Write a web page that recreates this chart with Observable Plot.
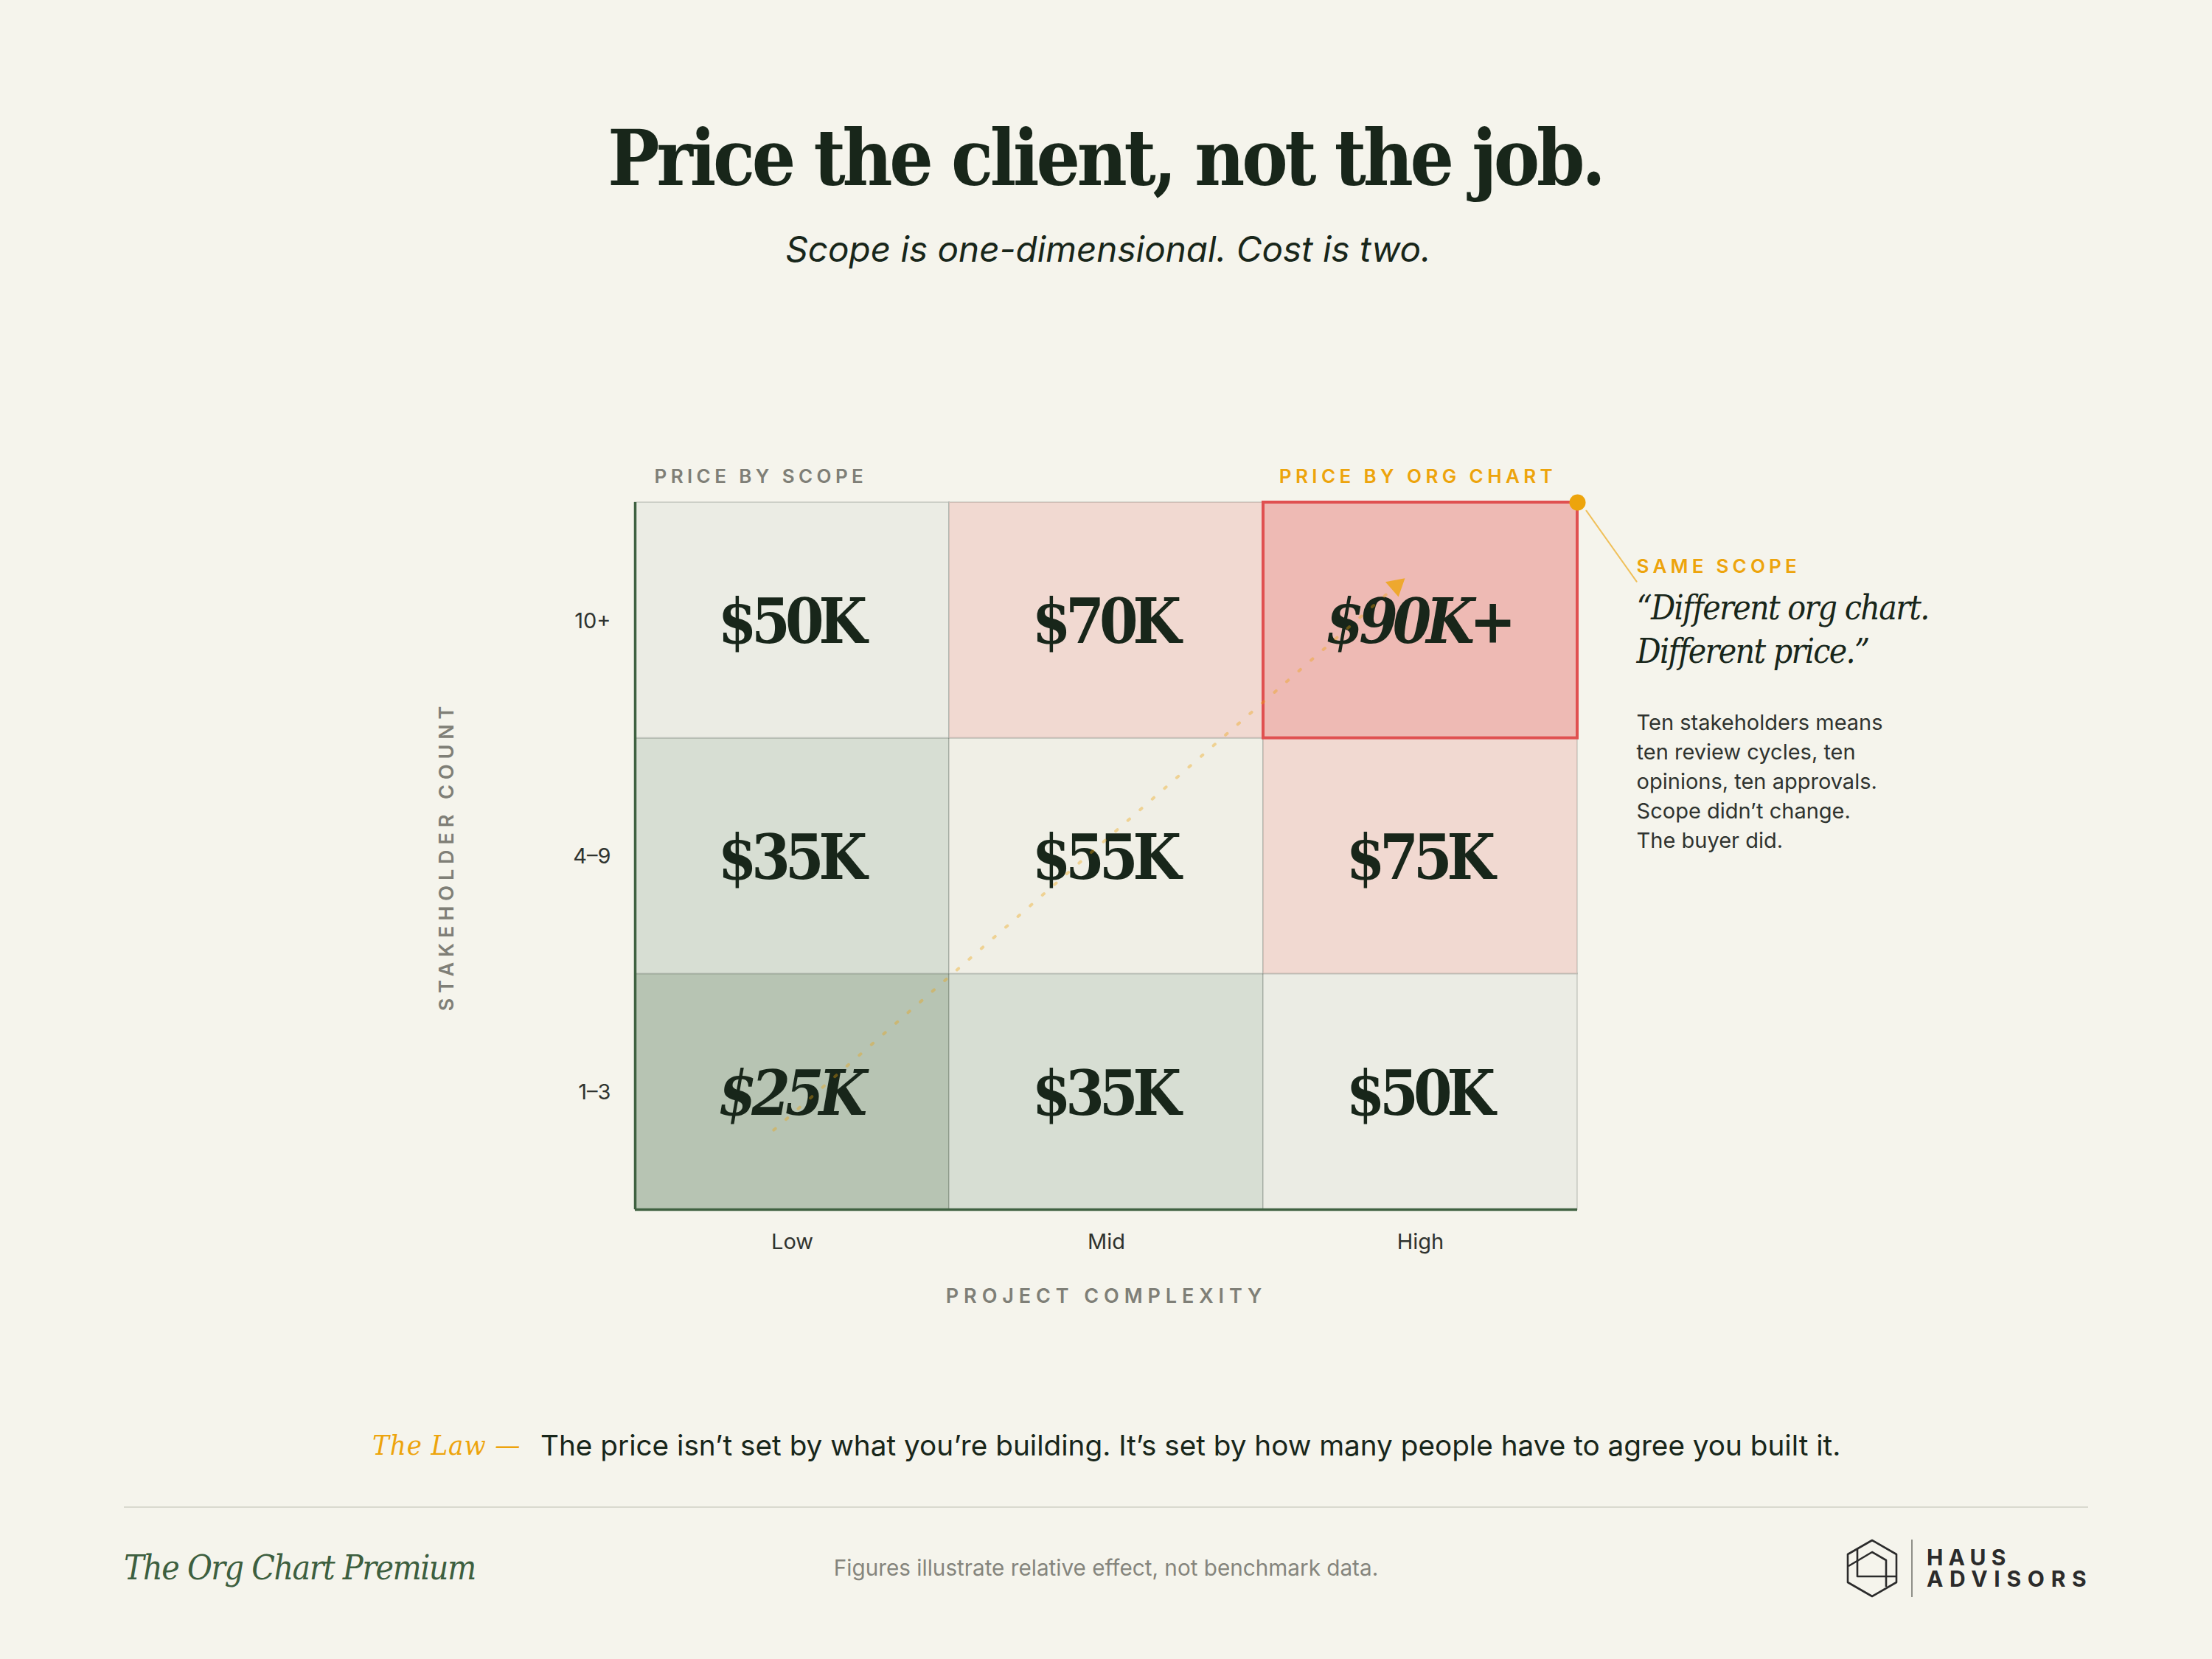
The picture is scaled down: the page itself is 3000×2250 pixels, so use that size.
<!DOCTYPE html>
<html><head><meta charset="utf-8">
<script src="https://cdn.jsdelivr.net/npm/d3@7"></script>
<script src="https://cdn.jsdelivr.net/npm/@observablehq/plot@0.6"></script>
<style>
html,body{margin:0;padding:0;background:#f5f4ec;}
body{width:3000px;height:2250px;overflow:hidden;position:relative;font-family:Inter,sans-serif;color:#18261a;}
#head{position:relative;height:560px;width:3000px;}
#plot svg{display:block;}
#foot{position:relative;height:410px;width:3000px;}
.abs{position:absolute;white-space:nowrap;line-height:1;}
:root{--serif:"DejaVu Serif Condensed","Liberation Serif",serif;}
</style></head>
<body>
<div id="head">
<div class="abs" style="left:-1px;width:3000px;text-align:center;top:153px;font:700 104px var(--serif);letter-spacing:-4.2px">Price the client, not the job.</div>
<div class="abs" style="left:3px;width:3000px;text-align:center;top:309px;font:italic 400 47.6px Inter">Scope is one-dimensional. Cost is two.</div>
</div>
<div id="plot"></div>
<div id="foot">
<div class="abs" style="left:505px;top:98px;font:italic 400 38px var(--serif);letter-spacing:0.9px;color:#eda40c">The Law —</div>
<div class="abs" style="left:733px;top:97px;font:400 38.7px Inter;color:#18261a">The price isn’t set by what you’re building. It’s set by how many people have to agree you built it.</div>
<div class="abs" style="left:168px;top:203px;width:2664px;height:2px;background:#d9d9cf"></div>
<div class="abs" style="left:168px;top:259px;font:italic 400 46px var(--serif);letter-spacing:-1.5px;color:#3d5f3f">The Org Chart Premium</div>
<div class="abs" style="left:0;width:3000px;text-align:center;top:268px;font:400 29.7px Inter;color:#85857d">Figures illustrate relative effect, not benchmark data.</div>
<svg class="abs" style="left:2400px;top:210px" width="500" height="150" viewBox="0 0 500 150">
<g fill="none" stroke="#2b2b2b" stroke-width="2.6" stroke-linejoin="round">
<polygon points="139,39 172,58 172,96 139,115 106,96 106,58"/>
<polyline points="107,74 139,55 158,66 158,102"/>
<polyline points="119,51 119,88 172,88"/>
</g>
<rect x="192" y="38" width="2" height="78" fill="#8f8f88"/>
<text x="213" y="73" font-family="Inter" font-weight="700" font-size="30" letter-spacing="7.2" fill="#2b2b2b">HAUS</text>
<text x="213" y="102" font-family="Inter" font-weight="700" font-size="30" letter-spacing="8.7" fill="#2b2b2b">ADVISORS</text>
</svg>
</div>
<script>
const serif = '"DejaVu Serif Condensed","Liberation Serif",serif';
const complexity = ["Low", "Mid", "High"];
const stakeholders = ["1–3", "4–9", "10+"];
const prices = [
  [25, 35, 50],
  [35, 55, 75],
  [50, 70, 90]
];
const priceLabels = [
  ["$25K", "$35K", "$50K"],
  ["$35K", "$55K", "$75K"],
  ["$50K", "$70K", "$90K+"]
];
const priceLevels = [25, 35, 50, 55, 70, 75, 90];
const priceColors = ["#b7c4b3", "#d7ded3", "#ebece4", "#f0efe6", "#f1d9d1", "#f1d9d1", "#eebab4"];
const arrowPath = [{x: 0.441, y: 0.3375}, {x: 2.40, y: 2.62}];
const arrowHead = [{x: 2.423, y: 2.647}];
const leader = [{x: 3.028, y: 2.965}, {x: 3.188, y: 2.665}];
const corner = [{x: 3, y: 3}];

const cells = stakeholders.flatMap((s, r) => complexity.map((c, i) => ({
  i, r, complexity: c, stakeholders: s, price: prices[r][i], label: priceLabels[r][i]
})));
const emphasised = d => d.price === 25 || d.price === 90;

const tracked = ls => (index, scales, values, dims, ctx, next) => {
  const g = next(index, scales, values, dims, ctx);
  g.style.letterSpacing = ls;
  return g;
};
const orange = "#eda40c", grey = "#7f7f77", ink = "#18261a", green = "#3f6141", soft = "#2f332f";

const chart = Plot.plot({
  width: 3000, height: 1280,
  marginLeft: 861, marginRight: 861, marginTop: 121, marginBottom: 200,
  style: {background: "transparent", fontFamily: "Inter"},
  x: {domain: [0, 3], axis: null},
  y: {domain: [0, 3], axis: null},
  color: {type: "ordinal", domain: priceLevels, range: priceColors},
  marks: [
    Plot.rect(cells, {x1: "i", x2: d => d.i + 1, y1: "r", y2: d => d.r + 1, fill: "price", stroke: "#18261a", strokeOpacity: 0.14, strokeWidth: 2, inset: 0}),
    Plot.ruleX([0], {stroke: green, strokeWidth: 3.5}),
    Plot.ruleY([0], {stroke: green, strokeWidth: 3.5}),
    Plot.axisX({ticks: [0.5, 1.5, 2.5], tickFormat: d => complexity[d - 0.5], tickSize: 0, tickPadding: 33, label: null, fontSize: 29, fontFamily: "Inter", fontVariant: "normal", color: soft}),
    Plot.axisY({ticks: [0.5, 1.5, 2.5], tickFormat: d => stakeholders[d - 0.5], tickSize: 0, tickPadding: 33, dy: 1, label: null, fontSize: 29, fontFamily: "Inter", fontVariant: "normal", color: soft}),
    Plot.text(["PROJECT COMPLEXITY"], {x: 1.5, y: -0.37, text: d => d, fontSize: 27, fontWeight: 600, fill: grey, render: tracked("6.9px")}),
    Plot.text(["STAKEHOLDER COUNT"], {x: -0.6, y: 1.5, text: d => d, rotate: -90, fontSize: 27, fontWeight: 600, fill: grey, render: tracked("6.9px")}),
    Plot.text(["PRICE BY SCOPE"], {x: 0.061, y: 3.11, text: d => d, textAnchor: "start", fontSize: 26, fontWeight: 600, fill: grey, render: tracked("5.4px")}),
    Plot.text(["PRICE BY ORG CHART"], {x: 2.05, y: 3.11, text: d => d, textAnchor: "start", fontSize: 26, fontWeight: 600, fill: orange, render: tracked("5.4px")}),
    Plot.text(cells.filter(d => !emphasised(d)), {x: d => d.i + 0.5, y: d => d.r + 0.5, dy: 4, dx: -3, text: "label", fontFamily: serif, fontWeight: 700, fontSize: 84, fill: ink, render: tracked("-7px")}),
    Plot.text(cells.filter(emphasised), {x: d => d.i + 0.5, y: d => d.r + 0.5, dy: 4, dx: -3, text: "label", fontFamily: serif, fontWeight: 700, fontStyle: "italic", fontSize: 84, fill: ink, render: tracked("-7px")}),
    Plot.rect([{}], {x1: 2, x2: 3, y1: 2, y2: 3, fill: "none", stroke: "#e05050", strokeWidth: 4}),
    Plot.line(arrowPath, {x: "x", y: "y", stroke: orange, strokeOpacity: 0.38, strokeWidth: 4, strokeDasharray: "3 19"}),
    Plot.dot(arrowHead, {x: "x", y: "y", symbol: "triangle", r: 10, rotate: 49, fill: orange, fillOpacity: 0.8, stroke: "none"}),
    Plot.line(leader, {x: "x", y: "y", stroke: orange, strokeOpacity: 0.65, strokeWidth: 2}),
    Plot.dot(corner, {x: "x", y: "y", r: 11, fill: orange, stroke: "none"}),
    Plot.text(["SAME SCOPE"], {x: 3.188, y: 2.728, text: d => d, textAnchor: "start", fontSize: 26, fontWeight: 600, fill: orange, render: tracked("5.2px")}),
    Plot.text(["“Different org chart.\nDifferent price.”"], {x: 3.188, y: 2.47, text: d => d, textAnchor: "start", lineHeight: 1.28, fontFamily: serif, fontStyle: "italic", fontSize: 46, fill: ink, render: tracked("-1.7px")}),
    Plot.text(["Ten stakeholders means\nten review cycles, ten\nopinions, ten approvals.\nScope didn’t change.\nThe buyer did."], {x: 3.188, y: 1.824, text: d => d, textAnchor: "start", lineHeight: 1.38, fontSize: 29, fill: soft})
  ]
});
document.getElementById("plot").appendChild(chart);
</script>
</body></html>
